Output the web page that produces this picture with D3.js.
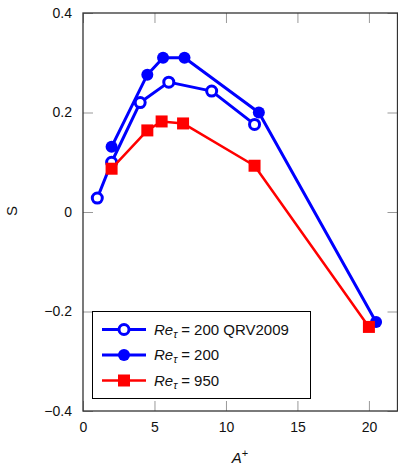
<!DOCTYPE html>
<html>
<head>
<meta charset="utf-8">
<script src="https://cdn.jsdelivr.net/npm/d3@7"></script>
<style>
body{margin:0;background:#fff;}
svg text{font-family:"Liberation Sans",Arial,Helvetica,sans-serif;}
</style>
</head>
<body>
<svg id="chart" width="398" height="467"></svg>
<script>
// Data
const xTicks = [0, 5, 10, 15, 20];
const yTicks = [-0.4, -0.2, 0, 0.2, 0.4];
const qrvX = [1, 2, 4, 6, 9, 12];
const qrvY = [0.028, 0.100, 0.220, 0.261, 0.243, 0.176];
const re200X = [2, 4.5, 5.6, 7.1, 12.3, 20.5];
const re200Y = [0.131, 0.276, 0.310, 0.310, 0.200, -0.221];
const re950X = [2, 4.5, 5.5, 7, 12, 20];
const re950Y = [0.087, 0.164, 0.182, 0.178, 0.093, -0.231];
const legendLabels = ["200 QRV2009", "200", "950"];

const svg = d3.select("#chart");
const L = 83, R = 397.5, T = 13, B = 411;
const x = d3.scaleLinear().domain([0, 22]).range([L, R]);
const y = d3.scaleLinear().domain([-0.4, 0.4]).range([B, T]);
const fmt = v => (v < 0 ? "\u2212" : "") + (v === 0 ? "0" : Math.abs(v).toFixed(1));

// Mirror ticks (inward)
const tickLen = 10, tickColor = "#999";
const g = svg.append("g");
g.append("g").attr("transform", `translate(0,${B})`)
  .call(d3.axisBottom(x).tickValues(xTicks).tickSizeInner(-tickLen).tickSizeOuter(0).tickFormat(d => d))
  .call(a => { a.select(".domain").remove(); a.selectAll("line").attr("stroke", tickColor).attr("stroke-width", 1);
    a.selectAll("text").attr("y", 11).attr("font-size", 14).attr("fill", "#111"); });
g.append("g").attr("transform", `translate(0,${T})`)
  .call(d3.axisTop(x).tickValues(xTicks).tickSizeInner(-tickLen).tickSizeOuter(0).tickFormat(""))
  .call(a => { a.select(".domain").remove(); a.selectAll("line").attr("stroke", tickColor); });
g.append("g").attr("transform", `translate(${L},0)`)
  .call(d3.axisLeft(y).tickValues(yTicks).tickSizeInner(-tickLen).tickSizeOuter(0).tickFormat(fmt))
  .call(a => { a.select(".domain").remove(); a.selectAll("line").attr("stroke", tickColor);
    a.selectAll("text").attr("x", -11).attr("font-size", 14).attr("fill", "#111"); });
g.append("g").attr("transform", `translate(${R},0)`)
  .call(d3.axisRight(y).tickValues(yTicks).tickSizeInner(-tickLen).tickSizeOuter(0).tickFormat(""))
  .call(a => { a.select(".domain").remove(); a.selectAll("line").attr("stroke", tickColor); });

// Frame
svg.append("rect").attr("x", L).attr("y", T).attr("width", R - L).attr("height", B - T)
  .attr("fill", "none").attr("stroke", "#333").attr("stroke-width", 1.3);

// Axis labels
svg.append("text").attr("transform", `translate(17,211) rotate(-90)`).attr("text-anchor", "middle")
  .attr("font-size", 15).attr("fill", "#111").text("S");
const xl = svg.append("text").attr("x", 240).attr("y", 463).attr("text-anchor", "middle").attr("font-size", 15).attr("fill", "#111");
xl.append("tspan").attr("font-style", "italic").text("A");
xl.append("tspan").attr("dy", -6).attr("font-size", 11).text("+");

const line = d3.line().x(d => x(d[0])).y(d => y(d[1]));
const zip = (a, b) => a.map((v, i) => [v, b[i]]);
const blue = "#0000ff", red = "#ff0000";

// QRV2009 (open circles)
const dq = zip(qrvX, qrvY);
svg.append("path").datum(dq).attr("d", line).attr("fill", "none").attr("stroke", blue).attr("stroke-width", 3).attr("stroke-linejoin", "round");
svg.selectAll(".oc").data(dq).join("circle").attr("cx", d => x(d[0])).attr("cy", d => y(d[1])).attr("r", 5)
  .attr("fill", "#fff").attr("stroke", blue).attr("stroke-width", 3);

// Re 200 (filled circles)
const d200 = zip(re200X, re200Y);
svg.append("path").datum(d200).attr("d", line).attr("fill", "none").attr("stroke", blue).attr("stroke-width", 3).attr("stroke-linejoin", "round");
svg.selectAll(".fc").data(d200).join("circle").attr("cx", d => x(d[0])).attr("cy", d => y(d[1])).attr("r", 6).attr("fill", blue);

// Re 950 (red squares)
const d950 = zip(re950X, re950Y);
svg.append("path").datum(d950).attr("d", line).attr("fill", "none").attr("stroke", red).attr("stroke-width", 2.5).attr("stroke-linejoin", "round");
svg.selectAll(".sq").data(d950).join("rect").attr("x", d => x(d[0]) - 6).attr("y", d => y(d[1]) - 6)
  .attr("width", 12).attr("height", 12).attr("fill", red);

// Legend
const lg = svg.append("g");
lg.append("rect").attr("x", 92.5).attr("y", 311.5).attr("width", 218).attr("height", 87)
  .attr("fill", "#fff").attr("stroke", "#000").attr("stroke-width", 1);
const ly = [329.5, 355, 380.5];
const styles = [
  {c: blue, w: 3, m: "open"},
  {c: blue, w: 3, m: "fill"},
  {c: red, w: 2.5, m: "sq"}
];
styles.forEach((s, i) => {
  const cy = ly[i];
  lg.append("line").attr("x1", 102).attr("x2", 146).attr("y1", cy).attr("y2", cy).attr("stroke", s.c).attr("stroke-width", s.w);
  if (s.m === "open") lg.append("circle").attr("cx", 124).attr("cy", cy).attr("r", 5).attr("fill", "#fff").attr("stroke", s.c).attr("stroke-width", 3);
  else if (s.m === "fill") lg.append("circle").attr("cx", 124).attr("cy", cy).attr("r", 6).attr("fill", s.c);
  else lg.append("rect").attr("x", 118).attr("y", cy - 6).attr("width", 12).attr("height", 12).attr("fill", s.c);
  const t = lg.append("text").attr("x", 154).attr("y", cy + 5).attr("font-size", 15).attr("fill", "#111");
  t.append("tspan").attr("font-style", "italic").text("Re");
  t.append("tspan").attr("font-style", "italic").attr("font-size", 11).attr("dy", 3).text("\u03C4");
  t.append("tspan").attr("dy", -3).attr("dx", 4).text("=");
  t.append("tspan").attr("dx", 4).text(legendLabels[i]);
});
</script>
</body>
</html>
